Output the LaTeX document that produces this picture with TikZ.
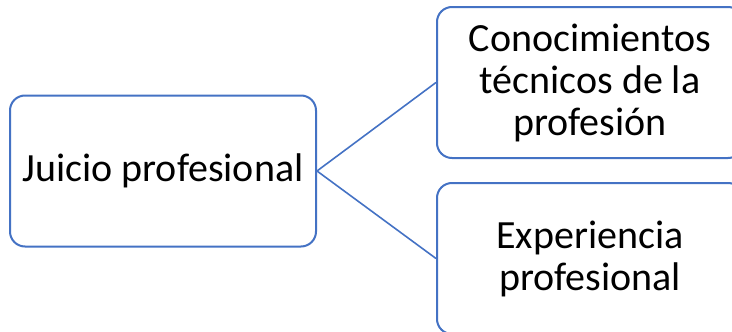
\documentclass[tikz,border=0pt]{standalone}
\usepackage{fontspec}
\setmainfont{Carlito}
\definecolor{boxblue}{HTML}{4472C4}
\begin{document}
\begin{tikzpicture}[x=1pt,y=1pt,
  itembox/.style={draw=boxblue, line width=2pt, rounded corners=15pt, fill=white,
    minimum width=306pt, minimum height=151pt, align=center, inner sep=0pt,
    font=\fontsize{40}{42}\selectfont},
  link/.style={draw=boxblue, line width=1.6pt}]
\useasboundingbox (0,0) rectangle (732,-332);
\node[itembox] (judg) at (163,-171) {Juicio profesional};
\node[itembox] (tech) at (590,-82.5) {Conocimientos\\técnicos de la\\profesión};
\node[itembox] (exp) at (590,-258.5) {Experiencia\\profesional};
\draw[link] (judg.east) -- (tech.west);
\draw[link] (judg.east) -- (exp.west);
\end{tikzpicture}
\end{document}
